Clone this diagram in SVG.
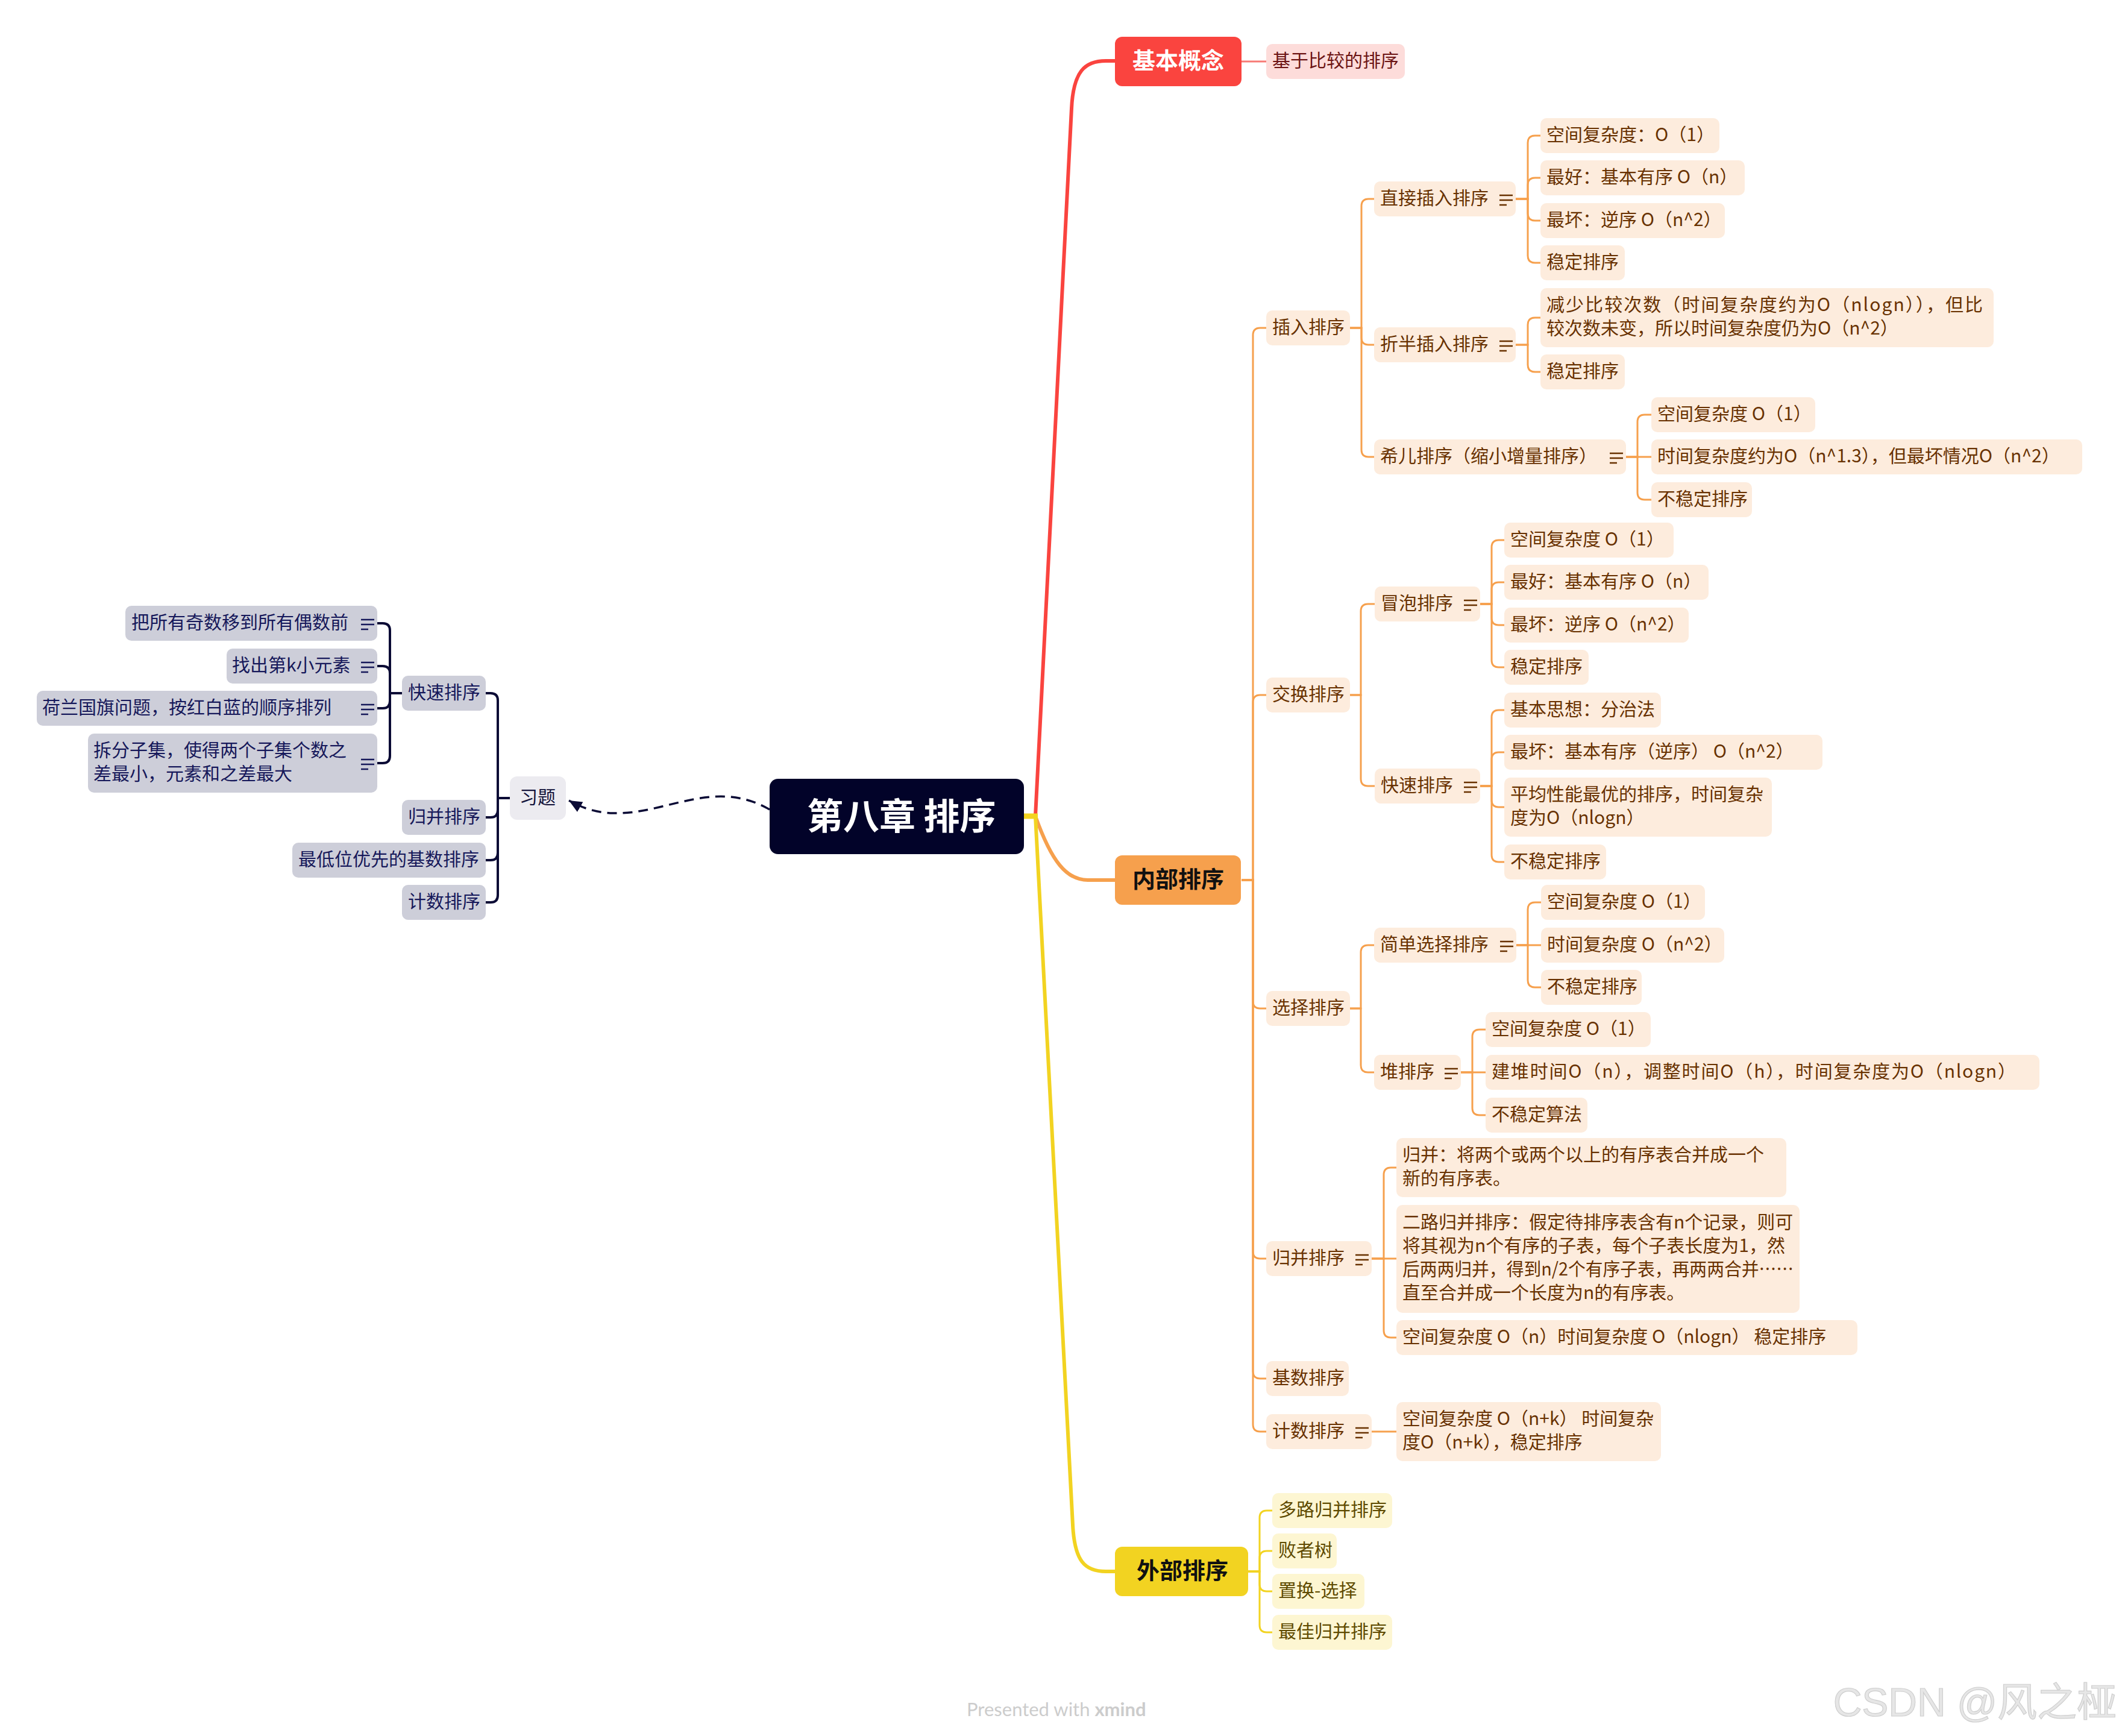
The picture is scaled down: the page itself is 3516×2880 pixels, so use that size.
<svg xmlns="http://www.w3.org/2000/svg" width="3516" height="2880" viewBox="0 0 3516 2880">
<style>
text{font-family:"Noto Sans CJK SC","Noto Sans",sans-serif;font-size:30px}
.o rect{fill:#FDECDD}.o text{fill:#683100}.o use{stroke:#683100}
.y rect{fill:#FDF6D2}.y text{fill:#5E4A00}
.l rect{fill:#CDCED9}.l text{fill:#16185A}.l use{stroke:#16185A}
.o text,.y text,.l text,.sh{transform:translateY(-2px)}
.big{font-size:38px;font-weight:bold}
.co path{fill:none;stroke:#F6A04D;stroke-width:3}
.cy path{fill:none;stroke:#F2D321;stroke-width:3}
.cl path{fill:none;stroke:#0B0B35;stroke-width:4}
</style>
<defs>
<g id="ic"><path d="M0,0h22M0,8h22M0,16h12" fill="none" stroke-width="2.6"/></g>
<marker id="ah" markerUnits="userSpaceOnUse" markerWidth="24" markerHeight="24" viewBox="0 0 20 20" refX="18" refY="10" orient="auto"><path d="M0,2 L18,10 L0,18 z" fill="#0B0B35"/></marker>
</defs>
<rect width="3516" height="2880" fill="#fff"/>

<g id="connectors">
<path d="M1718,1354 L1778,180 C1781,118 1800,101 1835,101 L1850,101" fill="none" stroke="#FA443F" stroke-width="6"/>
<path d="M1718,1354 C1745,1430 1770,1460 1805,1460 L1850,1460" fill="none" stroke="#F6A04D" stroke-width="6"/>
<path d="M1718,1354 L1780,2530 C1783,2590 1800,2607 1835,2607 L1850,2607" fill="none" stroke="#F2D321" stroke-width="6"/>
<path d="M1699,1354 H1722" stroke="#F2D321" stroke-width="9"/>
<path d="M2060,102 H2101" stroke="#F77A75" stroke-width="3"/>
<path d="M1277,1343 C1160,1275 1060,1395 944,1328" fill="none" stroke="#0B0B35" stroke-width="3.5" stroke-dasharray="16 10" marker-end="url(#ah)"/>
<g class="co">
<path d="M2060,1460 H2079 V556 Q2079,544 2091,544 H2101"/>
<path d="M2060,1460 H2079 V1165 Q2079,1153 2091,1153 H2101"/>
<path d="M2060,1460 H2079 V1661 Q2079,1673 2091,1673 H2101"/>
<path d="M2060,1460 H2079 V2076 Q2079,2088 2091,2088 H2101"/>
<path d="M2060,1460 H2079 V2275 Q2079,2287 2091,2287 H2101"/>
<path d="M2060,1460 H2079 V2363 Q2079,2375 2091,2375 H2101"/>
<path d="M2240,544 H2259 V342 Q2259,330 2271,330 H2280"/>
<path d="M2240,544 H2259 V560 Q2259,572 2271,572 H2280"/>
<path d="M2240,544 H2259 V746 Q2259,758 2271,758 H2280"/>
<path d="M2515,330 H2535 V237 Q2535,225 2547,225 H2556"/>
<path d="M2515,330 H2535 V307 Q2535,295 2547,295 H2556"/>
<path d="M2515,330 H2535 V354 Q2535,366 2547,366 H2556"/>
<path d="M2515,330 H2535 V424 Q2535,436 2547,436 H2556"/>
<path d="M2515,572 H2535 V539 Q2535,527 2547,527 H2556"/>
<path d="M2515,572 H2535 V605 Q2535,617 2547,617 H2556"/>
<path d="M2698,758 H2717 V700 Q2717,688 2729,688 H2740"/>
<path d="M2698,758 H2740"/>
<path d="M2698,758 H2717 V817 Q2717,829 2729,829 H2740"/>
<path d="M2240,1153 H2258 V1014 Q2258,1002 2270,1002 H2281"/>
<path d="M2240,1153 H2258 V1292 Q2258,1304 2270,1304 H2281"/>
<path d="M2456,1002 H2475 V908 Q2475,896 2487,896 H2496"/>
<path d="M2456,1002 H2475 V978 Q2475,966 2487,966 H2496"/>
<path d="M2456,1002 H2475 V1025 Q2475,1037 2487,1037 H2496"/>
<path d="M2456,1002 H2475 V1095 Q2475,1107 2487,1107 H2496"/>
<path d="M2456,1304 H2475 V1190 Q2475,1178 2487,1178 H2496"/>
<path d="M2456,1304 H2475 V1260 Q2475,1248 2487,1248 H2496"/>
<path d="M2456,1304 H2475 V1327 Q2475,1339 2487,1339 H2496"/>
<path d="M2456,1304 H2475 V1418 Q2475,1430 2487,1430 H2496"/>
<path d="M2240,1673 H2258 V1580 Q2258,1568 2270,1568 H2280"/>
<path d="M2240,1673 H2258 V1767 Q2258,1779 2270,1779 H2280"/>
<path d="M2516,1568 H2535 V1509 Q2535,1497 2547,1497 H2557"/>
<path d="M2516,1568 H2557"/>
<path d="M2516,1568 H2535 V1626 Q2535,1638 2547,1638 H2557"/>
<path d="M2424,1779 H2443 V1720 Q2443,1708 2455,1708 H2465"/>
<path d="M2424,1779 H2465"/>
<path d="M2424,1779 H2443 V1838 Q2443,1850 2455,1850 H2465"/>
<path d="M2276,2088 H2296 V1949 Q2296,1937 2308,1937 H2317"/>
<path d="M2276,2088 H2317"/>
<path d="M2276,2088 H2296 V2207 Q2296,2219 2308,2219 H2317"/>
<path d="M2276,2375 H2317"/>
</g>
<g class="cy">
<path d="M2071,2607 H2090 V2518 Q2090,2506 2102,2506 H2111"/>
<path d="M2071,2607 H2090 V2585 Q2090,2573 2102,2573 H2111"/>
<path d="M2071,2607 H2090 V2628 Q2090,2640 2102,2640 H2111"/>
<path d="M2071,2607 H2090 V2696 Q2090,2708 2102,2708 H2111"/>
</g>
<g class="cl">
<path d="M846,1324 H826 V1162 Q826,1150 814,1150 H806"/>
<path d="M846,1324 H826 V1344 Q826,1356 814,1356 H806"/>
<path d="M846,1324 H826 V1415 Q826,1427 814,1427 H806"/>
<path d="M846,1324 H826 V1485 Q826,1497 814,1497 H806"/>
<path d="M667,1150 H647 V1046 Q647,1034 635,1034 H626"/>
<path d="M667,1150 H647 V1117 Q647,1105 635,1105 H626"/>
<path d="M667,1150 H647 V1163 Q647,1175 635,1175 H626"/>
<path d="M667,1150 H647 V1254 Q647,1266 635,1266 H626"/>
</g>
</g>

<g id="root"><rect x="1277" y="1292" width="422" height="125" rx="14" fill="#020329"/><text x="1339" y="1376" style="font-size:60px;font-weight:bold" fill="#fff">第八章 排序</text></g>
<g id="n-jbgn"><rect x="1850" y="61" width="210" height="82" rx="12" fill="#FA443F"/><text class="big" x="1955" y="114" text-anchor="middle" fill="#fff">基本概念</text></g>
<g id="n-nbpx"><rect x="1850" y="1419" width="209" height="82" rx="12" fill="#F6A04D"/><text class="big" x="1955" y="1472" text-anchor="middle" fill="#111">内部排序</text></g>
<g id="n-wbpx"><rect x="1850" y="2566" width="221" height="82" rx="12" fill="#F2D321"/><text class="big" x="1962" y="2619" text-anchor="middle" fill="#111">外部排序</text></g>
<g id="n-jybj"><rect x="2101" y="73" width="230" height="58" rx="10" fill="#FDDCDA"/><text class="sh" x="2111" y="112.5" fill="#6C1414">基于比较的排序</text></g>

<g class="o">
<g id="n1"><rect x="2101" y="515" width="139" height="58" rx="10"/><text x="2111" y="554.5">插入排序</text></g>
<g id="n2"><rect x="2280" y="301" width="235" height="58" rx="10"/><text x="2290" y="340.5">直接插入排序</text><use href="#ic" x="2488" y="324"/></g>
<g id="n3"><rect x="2556" y="196" width="297" height="58" rx="10"/><text x="2566" y="235.5">空间复杂度：O（1）</text></g>
<g id="n4"><rect x="2556" y="266" width="339" height="58" rx="10"/><text x="2566" y="305.5">最好：基本有序 O（n）</text></g>
<g id="n5"><rect x="2556" y="337" width="306" height="58" rx="10"/><text x="2566" y="376.5">最坏：逆序 O（n^2）</text></g>
<g id="n6"><rect x="2556" y="407" width="140" height="58" rx="10"/><text x="2566" y="446.5">稳定排序</text></g>
<g id="n7"><rect x="2280" y="543" width="235" height="58" rx="10"/><text x="2290" y="582.5">折半插入排序</text><use href="#ic" x="2488" y="566"/></g>
<g id="n8"><rect x="2556" y="478" width="752" height="98" rx="10"/><text x="2566" y="518" textLength="724" lengthAdjust="spacing">减少比较次数（时间复杂度约为O（nlogn）），但比</text><text x="2566" y="557">较次数未变，所以时间复杂度仍为O（n^2）</text></g>
<g id="n9"><rect x="2556" y="588" width="140" height="58" rx="10"/><text x="2566" y="627.5">稳定排序</text></g>
<g id="n10"><rect x="2280" y="729" width="418" height="58" rx="10"/><text x="2290" y="768.5">希儿排序（缩小增量排序）</text><use href="#ic" x="2671" y="752"/></g>
<g id="n11"><rect x="2740" y="659" width="272" height="58" rx="10"/><text x="2750" y="698.5">空间复杂度 O（1）</text></g>
<g id="n12"><rect x="2740" y="729" width="715" height="58" rx="10"/><text x="2750" y="768.5">时间复杂度约为O（n^1.3），但最坏情况O（n^2）</text></g>
<g id="n13"><rect x="2740" y="800" width="167" height="58" rx="10"/><text x="2750" y="839.5">不稳定排序</text></g>
<g id="n14"><rect x="2101" y="1124" width="139" height="58" rx="10"/><text x="2111" y="1163.5">交换排序</text></g>
<g id="n15"><rect x="2281" y="973" width="175" height="58" rx="10"/><text x="2291" y="1012.5">冒泡排序</text><use href="#ic" x="2429" y="996"/></g>
<g id="n16"><rect x="2496" y="867" width="281" height="58" rx="10"/><text x="2506" y="906.5">空间复杂度  O（1）</text></g>
<g id="n17"><rect x="2496" y="937" width="339" height="58" rx="10"/><text x="2506" y="976.5">最好：基本有序 O（n）</text></g>
<g id="n18"><rect x="2496" y="1008" width="306" height="58" rx="10"/><text x="2506" y="1047.5">最坏：逆序 O（n^2）</text></g>
<g id="n19"><rect x="2496" y="1078" width="140" height="58" rx="10"/><text x="2506" y="1117.5">稳定排序</text></g>
<g id="n20"><rect x="2281" y="1275" width="175" height="58" rx="10"/><text x="2291" y="1314.5">快速排序</text><use href="#ic" x="2429" y="1298"/></g>
<g id="n21"><rect x="2496" y="1149" width="260" height="58" rx="10"/><text x="2506" y="1188.5">基本思想：分治法</text></g>
<g id="n22"><rect x="2496" y="1219" width="528" height="58" rx="10"/><text x="2506" y="1258.5">最坏：基本有序（逆序） O（n^2）</text></g>
<g id="n23"><rect x="2496" y="1290" width="444" height="98" rx="10"/><text x="2506" y="1330">平均性能最优的排序，时间复杂</text><text x="2506" y="1369">度为O（nlogn）</text></g>
<g id="n24"><rect x="2496" y="1401" width="169" height="58" rx="10"/><text x="2506" y="1440.5">不稳定排序</text></g>
<g id="n25"><rect x="2101" y="1644" width="139" height="58" rx="10"/><text x="2111" y="1683.5">选择排序</text></g>
<g id="n26"><rect x="2280" y="1539" width="236" height="58" rx="10"/><text x="2290" y="1578.5">简单选择排序</text><use href="#ic" x="2489" y="1562"/></g>
<g id="n27"><rect x="2557" y="1468" width="272" height="58" rx="10"/><text x="2567" y="1507.5">空间复杂度 O（1）</text></g>
<g id="n28"><rect x="2557" y="1539" width="304" height="58" rx="10"/><text x="2567" y="1578.5">时间复杂度 O（n^2）</text></g>
<g id="n29"><rect x="2557" y="1609" width="167" height="58" rx="10"/><text x="2567" y="1648.5">不稳定排序</text></g>
<g id="n30"><rect x="2280" y="1750" width="144" height="58" rx="10"/><text x="2290" y="1789.5">堆排序</text><use href="#ic" x="2397" y="1773"/></g>
<g id="n31"><rect x="2465" y="1679" width="274" height="58" rx="10"/><text x="2475" y="1718.5">空间复杂度 O（1）</text></g>
<g id="n32"><rect x="2465" y="1750" width="919" height="58" rx="10"/><text x="2475" y="1789.5" textLength="870" lengthAdjust="spacing">建堆时间O（n），调整时间O（h），时间复杂度为O（nlogn）</text></g>
<g id="n33"><rect x="2465" y="1821" width="169" height="58" rx="10"/><text x="2475" y="1860.5">不稳定算法</text></g>
<g id="n34"><rect x="2101" y="2059" width="175" height="58" rx="10"/><text x="2111" y="2098.5">归并排序</text><use href="#ic" x="2249" y="2082"/></g>
<g id="n35"><rect x="2317" y="1888" width="647" height="98" rx="10"/><text x="2327" y="1928">归并：将两个或两个以上的有序表合并成一个</text><text x="2327" y="1967">新的有序表。</text></g>
<g id="n36"><rect x="2317" y="1999" width="669" height="179" rx="10"/><text x="2327" y="2040">二路归并排序：假定待排序表含有n个记录，则可</text><text x="2327" y="2079">将其视为n个有序的子表，每个子表长度为1，然</text><text x="2327" y="2118" textLength="649" lengthAdjust="spacingAndGlyphs">后两两归并，得到n/2个有序子表，再两两合并……</text><text x="2327" y="2157">直至合并成一个长度为n的有序表。</text></g>
<g id="n37"><rect x="2317" y="2190" width="765" height="58" rx="10"/><text x="2327" y="2229.5">空间复杂度 O（n）时间复杂度 O（nlogn） 稳定排序</text></g>
<g id="n38"><rect x="2101" y="2258" width="137" height="58" rx="10"/><text x="2111" y="2297.5">基数排序</text></g>
<g id="n39"><rect x="2101" y="2346" width="175" height="58" rx="10"/><text x="2111" y="2385.5">计数排序</text><use href="#ic" x="2249" y="2369"/></g>
<g id="n40"><rect x="2317" y="2326" width="439" height="98" rx="10"/><text x="2327" y="2366">空间复杂度 O（n+k） 时间复杂</text><text x="2327" y="2405">度O（n+k），稳定排序</text></g>
</g>

<g class="y">
<g id="y1"><rect x="2111" y="2477" width="199" height="58" rx="10"/><text x="2121" y="2516.5">多路归并排序</text></g>
<g id="y2"><rect x="2111" y="2544" width="107" height="58" rx="10"/><text x="2121" y="2583.5">败者树</text></g>
<g id="y3"><rect x="2111" y="2611" width="153" height="58" rx="10"/><text x="2121" y="2650.5">置换-选择</text></g>
<g id="y4"><rect x="2111" y="2679" width="199" height="58" rx="10"/><text x="2121" y="2718.5">最佳归并排序</text></g>
</g>

<g id="xt"><rect x="846" y="1288" width="93" height="72" rx="12" fill="#ECEBF0"/><text class="sh" x="892" y="1334.5" text-anchor="middle" fill="#12123A">习题</text></g>
<g class="l">
<g id="l1"><rect x="667" y="1121" width="139" height="58" rx="10"/><text x="677" y="1160.5">快速排序</text></g>
<g id="l2"><rect x="667" y="1327" width="139" height="58" rx="10"/><text x="677" y="1366.5">归并排序</text></g>
<g id="l3"><rect x="485" y="1398" width="321" height="58" rx="10"/><text x="495" y="1437.5">最低位优先的基数排序</text></g>
<g id="l4"><rect x="667" y="1468" width="139" height="58" rx="10"/><text x="677" y="1507.5">计数排序</text></g>
<g id="l5"><rect x="208" y="1005" width="418" height="58" rx="10"/><text x="218" y="1044.5">把所有奇数移到所有偶数前</text><use href="#ic" x="599" y="1028"/></g>
<g id="l6"><rect x="376" y="1076" width="250" height="58" rx="10"/><text x="385" y="1115.5">找出第k小元素</text><use href="#ic" x="599" y="1099"/></g>
<g id="l7"><rect x="61" y="1146" width="565" height="58" rx="10"/><text x="70" y="1185.5">荷兰国旗问题，按红白蓝的顺序排列</text><use href="#ic" x="599" y="1169"/></g>
<g id="l8"><rect x="146" y="1217" width="480" height="98" rx="10"/><text x="155" y="1257">拆分子集，使得两个子集个数之</text><text x="155" y="1296">差最小，元素和之差最大</text><use href="#ic" x="599" y="1260"/></g>
</g>

<text x="1604" y="2847" style="font-family:Lato,'Open Sans',sans-serif;font-size:31px" fill="#CCCCCC">Presented with <tspan font-weight="bold">xmind</tspan></text>
<text x="3512" y="2847" text-anchor="end" style="font-family:'Liberation Sans','Noto Sans CJK SC',sans-serif;font-size:66px" fill="#E6E6E6" stroke="#CFCFCF" stroke-width="1.2">CSDN @风之桠</text>
</svg>
